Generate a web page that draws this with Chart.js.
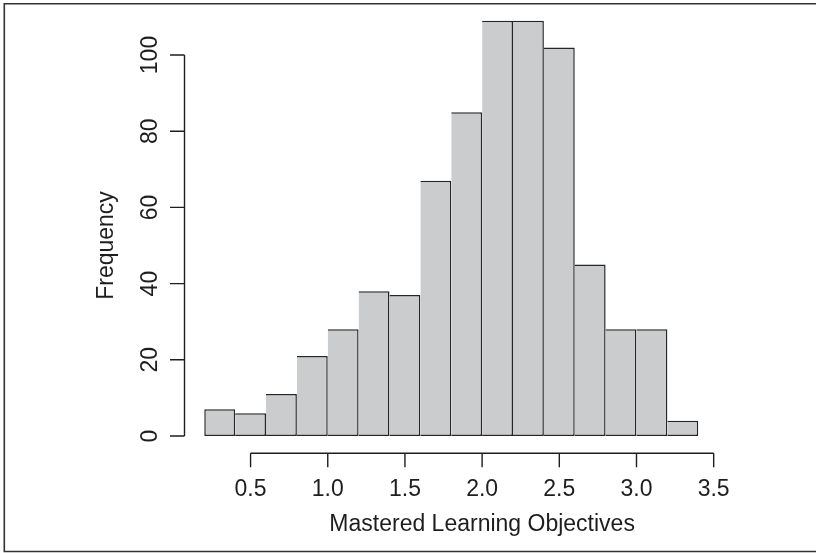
<!DOCTYPE html>
<html>
<head>
<meta charset="utf-8">
<script src="https://cdn.jsdelivr.net/npm/chart.js@4/dist/chart.umd.min.js"></script>
<style>
  html, body { margin: 0; padding: 0; background: #ffffff; overflow: hidden; }
  #wrap { position: relative; width: 816px; height: 553px; }
  #hist { display: block; }
</style>
</head>
<body>
<div id="wrap"><canvas id="hist" width="816" height="553"></canvas></div>
<script>
// Histogram bins (width 0.2) and their counts
const binBreaks = [0.2, 0.4, 0.6, 0.8, 1.0, 1.2, 1.4, 1.6, 1.8, 2.0, 2.2, 2.4, 2.6, 2.8, 3.0, 3.2, 3.4];
const binCounts = [7, 6, 11, 21, 28, 38, 37, 67, 85, 109, 109, 102, 45, 28, 28, 4];
const xTicks = [0.5, 1.0, 1.5, 2.0, 2.5, 3.0, 3.5];
const yTicks = [0, 20, 40, 60, 80, 100];
const xTitle = 'Mastered Learning Objectives';
const yTitle = 'Frequency';

// Bin midpoints for the linear x scale
const binMids = binCounts.map((_, i) => (binBreaks[i] + binBreaks[i + 1]) / 2);

// Axis limits with a 4% margin on each side
const xLo = binBreaks[0], xHi = binBreaks[binBreaks.length - 1];
const xPad = (xHi - xLo) * 0.04;
const yHi = Math.max(...binCounts);
const yPad = yHi * 0.04;

const FONT = '"Liberation Sans", Arial, Helvetica, sans-serif';
const INK = '#1e1e1e';

// Detached axes: lines span only the tick range, ticks point outward
const detachedAxes = {
  id: 'detachedAxes',
  beforeDraw(chart) {
    const { ctx, width, height } = chart;
    ctx.save();
    ctx.fillStyle = '#ffffff';
    ctx.fillRect(0, 0, width, height);
    // frame around the figure: top, left and bottom edges
    ctx.strokeStyle = '#333333';
    ctx.lineWidth = 1.6;
    ctx.lineCap = 'butt';
    ctx.beginPath();
    ctx.moveTo(width, 3.8);
    ctx.lineTo(4.3, 3.8);
    ctx.lineTo(4.3, 551.5);
    ctx.lineTo(width, 551.5);
    ctx.stroke();
    ctx.restore();
  },
  afterDraw(chart) {
    const { ctx, chartArea: area, scales: { x, y } } = chart;
    ctx.save();
    ctx.strokeStyle = INK;
    ctx.fillStyle = INK;
    ctx.lineWidth = 1.4;
    ctx.font = '23px ' + FONT;

    // x axis
    const xb = area.bottom + 0.7;
    const x0 = x.getPixelForValue(xTicks[0]);
    const x1 = x.getPixelForValue(xTicks[xTicks.length - 1]);
    ctx.beginPath();
    ctx.moveTo(x0, xb);
    ctx.lineTo(x1, xb);
    xTicks.forEach(v => {
      const px = x.getPixelForValue(v);
      ctx.moveTo(px, xb);
      ctx.lineTo(px, xb + 14);
    });
    ctx.stroke();
    ctx.textAlign = 'center';
    ctx.textBaseline = 'alphabetic';
    xTicks.forEach(v => {
      ctx.fillText(v.toFixed(1), x.getPixelForValue(v), area.bottom + 43.5);
    });
    ctx.fillText(xTitle, (x0 + x1) / 2, area.bottom + 78);

    // y axis
    const yl = area.left;
    const y0 = y.getPixelForValue(yTicks[0]);
    const y1 = y.getPixelForValue(yTicks[yTicks.length - 1]);
    ctx.beginPath();
    ctx.moveTo(yl, y0);
    ctx.lineTo(yl, y1);
    yTicks.forEach(v => {
      const py = y.getPixelForValue(v);
      ctx.moveTo(yl, py);
      ctx.lineTo(yl - 14.5, py);
    });
    ctx.stroke();
    yTicks.forEach(v => {
      ctx.save();
      ctx.translate(yl - 28, y.getPixelForValue(v));
      ctx.rotate(-Math.PI / 2);
      ctx.fillText(String(v), 0, 0);
      ctx.restore();
    });
    ctx.save();
    ctx.translate(yl - 71.5, (y0 + y1) / 2);
    ctx.rotate(-Math.PI / 2);
    ctx.fillText(yTitle, 0, 0);
    ctx.restore();

    ctx.restore();
  }
};

new Chart(document.getElementById('hist'), {
  type: 'bar',
  data: {
    datasets: [{
      data: binMids.map((m, i) => ({ x: m, y: binCounts[i] })),
      backgroundColor: '#cbccce',
      borderColor: '#262626',
      borderWidth: ctx => ({ top: 1.5, right: 1.5, bottom: 1.5, left: ctx.dataIndex === 0 ? 1.5 : 0 }),
      borderSkipped: false,
      inflateAmount: 0,
      barPercentage: 1,
      categoryPercentage: 1
    }]
  },
  options: {
    responsive: false,
    animation: false,
    devicePixelRatio: 1,
    layout: { padding: { left: 184.5, right: 98, top: 4.1, bottom: 100.4 } },
    plugins: { legend: { display: false }, tooltip: { enabled: false } },
    scales: {
      x: {
        type: 'linear',
        display: false,
        offset: false,
        min: xLo - xPad,
        max: xHi + xPad,
        afterBuildTicks: s => { s.ticks = xTicks.map(v => ({ value: v })); }
      },
      y: {
        display: false,
        min: -yPad,
        max: yHi + yPad
      }
    }
  },
  plugins: [detachedAxes]
});
</script>
</body>
</html>
